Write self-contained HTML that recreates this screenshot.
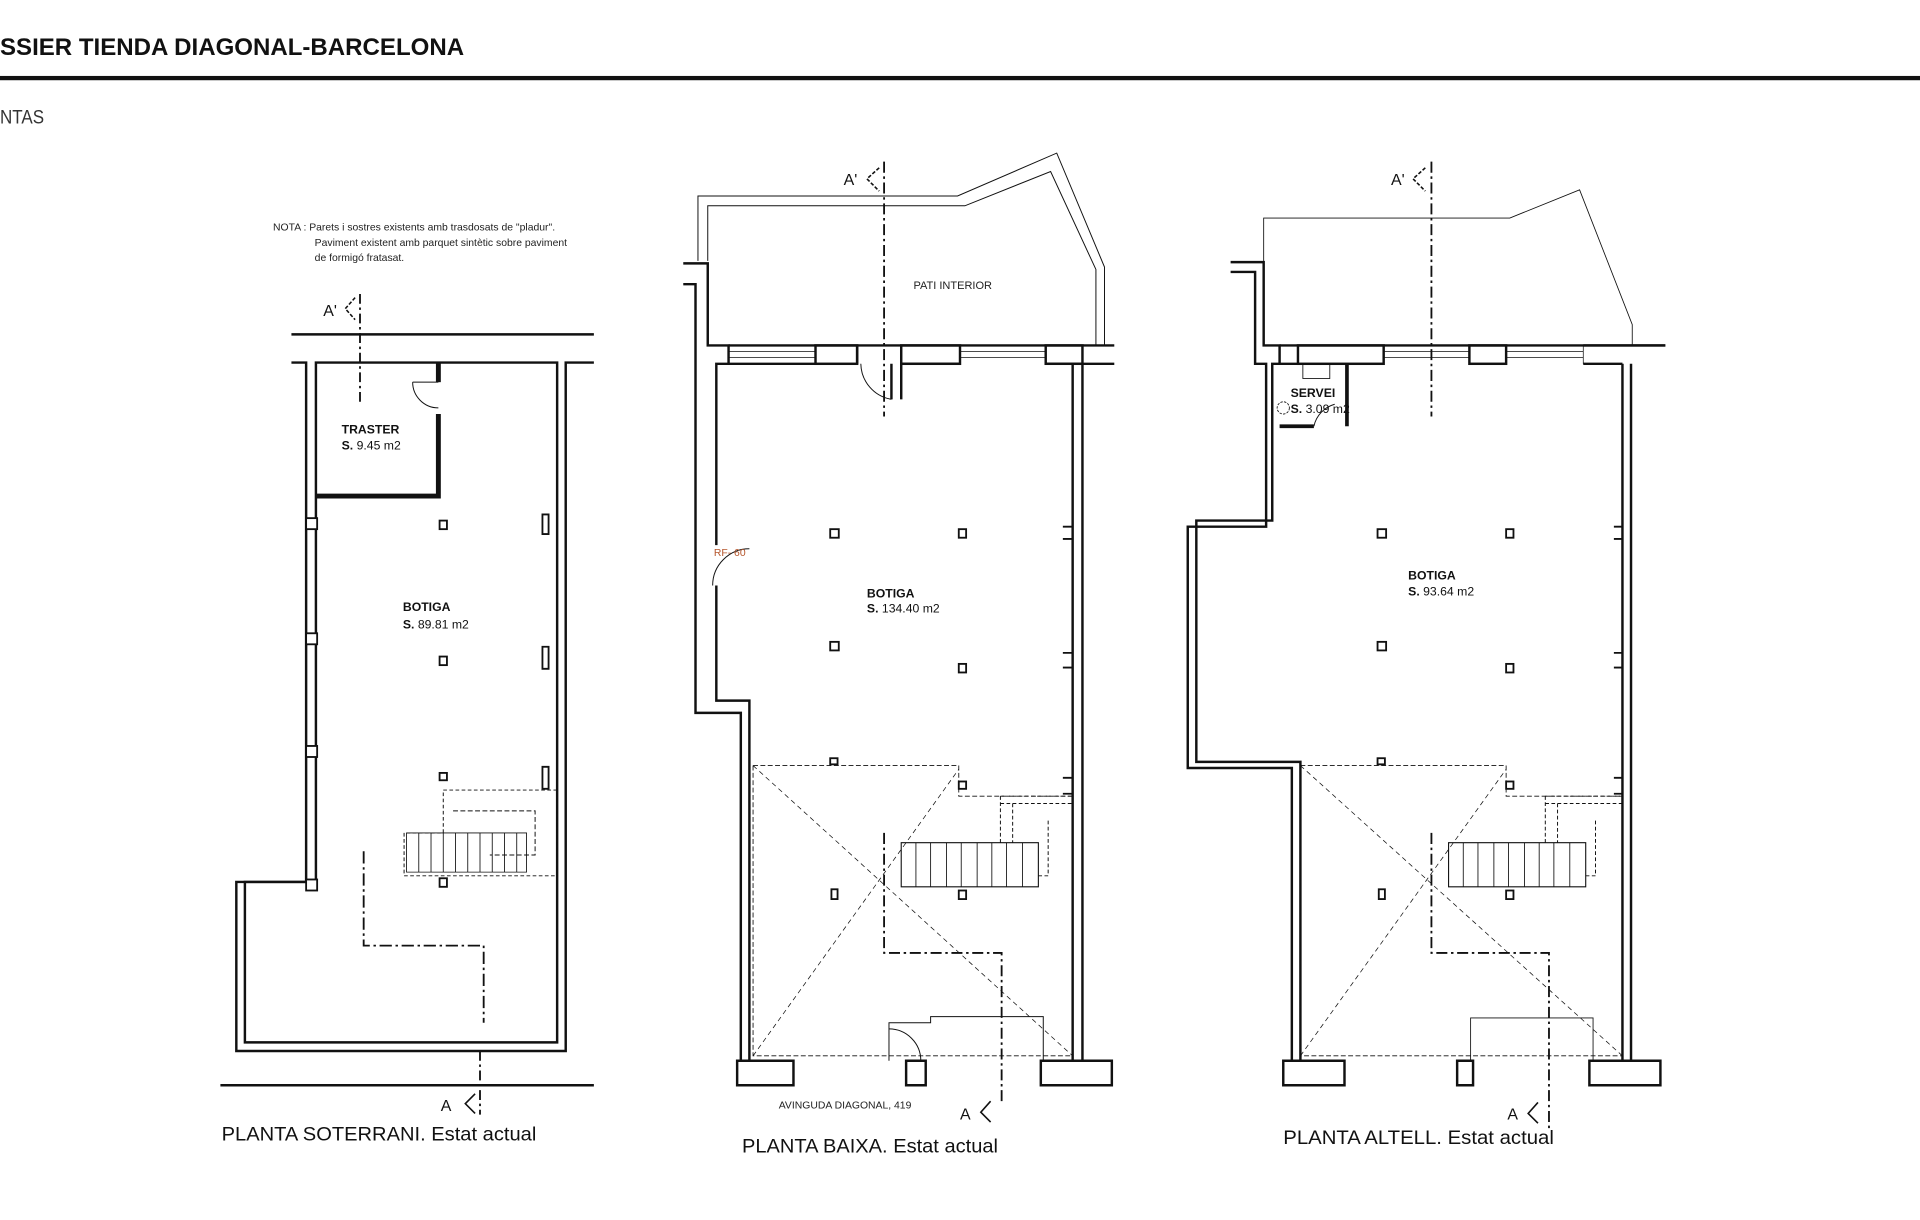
<!DOCTYPE html>
<html><head><meta charset="utf-8"><style>
html,body{margin:0;padding:0;background:#fff;width:1920px;height:1220px;overflow:hidden}
svg{display:block}
text{font-family:"Liberation Sans",sans-serif}
</style></head><body>
<svg width="1920" height="1220" viewBox="0 0 1568 996" preserveAspectRatio="none" xmlns="http://www.w3.org/2000/svg">
<text x="0" y="45" font-size="19.5" font-weight="bold" fill="#111" textLength="379" lengthAdjust="spacingAndGlyphs">SSIER TIENDA DIAGONAL-BARCELONA</text>
<rect x="0" y="62" width="1568" height="3.5" fill="#111"/>
<text x="0" y="101" font-size="16" fill="#333" textLength="36" lengthAdjust="spacingAndGlyphs">NTAS</text>

<g fill="none" stroke="#111">
<!-- ============ PLAN 1 SOTERRANI ============ -->
<text x="223" y="188" font-size="8.5" fill="#222" stroke="none">NOTA :  Parets i sostres existents amb trasdosats de "pladur".</text>
<text x="257" y="201" font-size="8.5" fill="#222" stroke="none">Paviment existent amb parquet sintètic sobre paviment</text>
<text x="257" y="213" font-size="8.5" fill="#222" stroke="none">de formigó fratasat.</text>
<line x1="238" y1="273" x2="485" y2="273" stroke-width="2"/>
<path d="M238 296 H250 V720 H193 V858 H462 V296 H485" stroke-width="2"/>
<path d="M258 296 V720 H200 V851 H455 V296 Z" stroke-width="2"/>
<line x1="180" y1="886" x2="485" y2="886" stroke-width="2"/>
<rect x="250" y="423" width="9" height="9" stroke-width="1.5" fill="#fff"/>
<rect x="250" y="517" width="9" height="9" stroke-width="1.5" fill="#fff"/>
<rect x="250" y="609" width="9" height="9" stroke-width="1.5" fill="#fff"/>
<rect x="250" y="718" width="9" height="9" stroke-width="1.5" fill="#fff"/>
<path d="M258 405 H358 V338" stroke-width="4"/>
<line x1="358" y1="296" x2="358" y2="312" stroke-width="4"/>
<path d="M337 312 H358 M337 312 A21 21 0 0 0 358 333" stroke-width="0.8"/>
<text x="279" y="354" font-size="10" font-weight="bold" fill="#111" stroke="none">TRASTER</text>
<text x="279" y="367" font-size="10" fill="#111" stroke="none"><tspan font-weight="bold">S.</tspan>     9.45 m2</text>
<text x="329" y="499" font-size="10" font-weight="bold" fill="#111" stroke="none">BOTIGA</text>
<text x="329" y="513" font-size="10" fill="#111" stroke="none"><tspan font-weight="bold">S.</tspan>     89.81 m2</text>
<g stroke-width="1.5" fill="#fff">
<rect x="359" y="425" width="6" height="7"/><rect x="359" y="536" width="6" height="7"/><rect x="359" y="631" width="6" height="6"/><rect x="359" y="717" width="6" height="7"/>
<path d="M443 420 V436 H448 V420 Z M443 528 V546 H448 V528 Z M443 626 V644 H448 V626 Z" />
</g>
<path d="M362 645 H455 V715 H330 V680 H362 Z" stroke-width="0.8" stroke-dasharray="3 2"/>
<g stroke-width="0.7"><path d="M332 680 H430 V712 H332 Z"/>
<path d="M342 680V712M352 680V712M362 680V712M372 680V712M382 680V712M392 680V712M402 680V712M412 680V712M422 680V712"/></g>
<path d="M370 662 H437 V698 H400" stroke-width="0.8" stroke-dasharray="4 2"/>
<path d="M297 695 V772 H395 V835" stroke-width="1.5" stroke-dasharray="10 3 2 3"/>
<line x1="294" y1="240" x2="294" y2="330" stroke-width="1.5" stroke-dasharray="8 3 2 3"/>
<path d="M290 243 L282 252 L290 261" stroke-width="1.3" stroke-dasharray="3 1.5"/>
<text x="264" y="258" font-size="13" fill="#111" stroke="none">A'</text>
<line x1="392" y1="858" x2="392" y2="910" stroke-width="1.5" stroke-dasharray="8 3 2 3"/>
<path d="M388 893 L380 901 L388 909" stroke-width="1.3"/>
<text x="360" y="907" font-size="13" fill="#111" stroke="none">A</text>
<text x="181" y="931" font-size="16" fill="#111" stroke="none" textLength="257" lengthAdjust="spacingAndGlyphs">PLANTA SOTERRANI. Estat actual</text>

<!-- ============ PLAN 2 BAIXA ============ -->
<path d="M570 213 V160 L782 160 L863 125 L902 218 V282" stroke-width="0.8"/>
<path d="M578 213 V168 L788 168 L858 140 L895 220 V282" stroke-width="0.8"/>
<path d="M558 215 H578 V282 H595 V297 H585 V445 M585 478 V572 H612 V866 H602" stroke-width="2"/>
<path d="M558 232 H568 V582 H605 V866" stroke-width="2"/>
<path d="M582 478 A30 30 0 0 1 612 448" stroke-width="0.8"/>
<text x="583" y="454" font-size="8.5" fill="#b5552b" stroke="none">RF- 60</text>
<path d="M595 282 H910 M595 297 H666 M700 297 V282 M736 297 H784 M854 297 H910" stroke-width="2"/>
<rect x="666" y="282" width="34" height="15" stroke-width="2"/>
<rect x="736" y="282" width="48" height="15" stroke-width="2"/>
<rect x="854" y="282" width="30" height="15" stroke-width="2"/>
<path d="M595 287 H666 M595 292 H666 M784 287 H854 M784 292 H854" stroke-width="0.6"/>
<path d="M736 297 V326 M728 297 V326" stroke-width="2"/>
<path d="M703 297 A30 30 0 0 0 728 326" stroke-width="0.8"/>
<path d="M876 297 V866 H908 M884 297 V866" stroke-width="2"/>
<path d="M868 430 H876 M868 440 H876 M868 533 H876 M868 545 H876 M868 635 H876 M868 648 H876" stroke-width="1.5"/>
<path d="M602 866 H648 V886 H602 Z M740 866 H756 V886 H740 Z M850 866 H908 V886 H850 Z" stroke-width="2"/>
<text x="746" y="236" font-size="9" fill="#222" stroke="none">PATI INTERIOR</text>
<text x="708" y="488" font-size="10" font-weight="bold" fill="#111" stroke="none">BOTIGA</text>
<text x="708" y="500" font-size="10" fill="#111" stroke="none"><tspan font-weight="bold">S.</tspan>  134.40 m2</text>
<g stroke-width="1.5" fill="#fff">
<rect x="678" y="432" width="7" height="7"/><rect x="783" y="432" width="6" height="7"/><rect x="678" y="524" width="7" height="7"/><rect x="783" y="542" width="6" height="7"/><rect x="678" y="619" width="6" height="5"/><rect x="783" y="638" width="6" height="6"/><rect x="679" y="726" width="5" height="8"/><rect x="783" y="727" width="6" height="7"/>
</g>
<g stroke-width="0.7" stroke-dasharray="4 2"><path d="M615 625 H783 V650 H876 M615 625 V862 H876"/></g>
<path d="M615 625 L876 862 M615 862 L783 628" stroke-width="0.6" stroke-dasharray="4 3"/>
<path d="M736 688 H848 V724 H736 Z" stroke-width="0.9"/>
<path d="M748 688V724M760 688V724M773 688V724M785 688V724M798 688V724M810 688V724M822 688V724M835 688V724" stroke-width="0.7"/>
<path d="M817 650 H876 M817 656 H876 M817 650 V688 M827 656 V688 M856 670 V715 H848" stroke-width="0.8" stroke-dasharray="3 2"/>
<path d="M722 132 V340" stroke-width="1.5" stroke-dasharray="9 3 2 3"/>
<path d="M718 137 L708 146 L718 156" stroke-width="1.3" stroke-dasharray="3 1.5"/>
<text x="689" y="151" font-size="13" fill="#111" stroke="none">A'</text>
<path d="M722 680 V778 H818 V900" stroke-width="1.5" stroke-dasharray="9 3 2 3"/>
<path d="M809 899 L801 908 L809 916" stroke-width="1.3"/>
<text x="784" y="914" font-size="13" fill="#111" stroke="none">A</text>
<path d="M726 866 V835 H760 V830 H852 V866" stroke-width="0.8"/>
<path d="M726 840 A26 26 0 0 1 752 866" stroke-width="0.8"/>
<text x="636" y="905" font-size="8.5" fill="#222" stroke="none">AVINGUDA DIAGONAL, 419</text>
<text x="606" y="941" font-size="16" fill="#111" stroke="none" textLength="209" lengthAdjust="spacingAndGlyphs">PLANTA BAIXA. Estat actual</text>

<!-- ============ PLAN 3 ALTELL ============ -->
<path d="M1032 214 V178 H1233 L1290 155 L1333 265 V282" stroke-width="0.7"/>
<path d="M1005 214 H1032 V282 H1045 V297 H1039 V425 H977 V622 H1062 V866 H1050" stroke-width="2"/>
<path d="M1005 222 H1025 V297 H1034 V430 H970 V627 H1055 V866" stroke-width="2"/>
<path d="M1045 282 H1360 M1045 297 H1060" stroke-width="2"/>
<rect x="1060" y="282" width="70" height="15" stroke-width="2"/>
<rect x="1200" y="282" width="30" height="15" stroke-width="2"/>
<path d="M1293 282 H1360 M1293 297 H1325" stroke-width="2"/>
<path d="M1293 282 V297 M1130 287 H1200 M1130 292 H1200 M1230 287 H1293 M1230 292 H1293" stroke-width="0.6"/>
<path d="M1325 297 V866 H1356 M1332 297 V866" stroke-width="2"/>
<path d="M1318 430 H1325 M1318 440 H1325 M1318 533 H1325 M1318 545 H1325 M1318 635 H1325 M1318 648 H1325" stroke-width="1.5"/>
<path d="M1048 866 H1098 V886 H1048 Z M1190 866 H1203 V886 H1190 Z M1298 866 H1356 V886 H1298 Z" stroke-width="2"/>
<path d="M1100 297 V348" stroke-width="3"/>
<path d="M1045 348 H1073" stroke-width="3"/>
<path d="M1073 348 A24 24 0 0 1 1090 330" stroke-width="0.8"/>
<rect x="1064" y="297" width="22" height="12" stroke-width="0.7"/>
<circle cx="1048" cy="333" r="5" stroke-width="0.7" stroke-dasharray="2 1"/>
<text x="1054" y="324" font-size="10" font-weight="bold" fill="#111" stroke="none">SERVEI</text>
<text x="1054" y="337" font-size="10" fill="#111" stroke="none"><tspan font-weight="bold">S.</tspan>    3.09 m2</text>
<text x="1150" y="473" font-size="10" font-weight="bold" fill="#111" stroke="none">BOTIGA</text>
<text x="1150" y="486" font-size="10" fill="#111" stroke="none"><tspan font-weight="bold">S.</tspan>    93.64 m2</text>
<g stroke-width="1.5" fill="#fff">
<rect x="1125" y="432" width="7" height="7"/><rect x="1230" y="432" width="6" height="7"/><rect x="1125" y="524" width="7" height="7"/><rect x="1230" y="542" width="6" height="7"/><rect x="1125" y="619" width="6" height="5"/><rect x="1230" y="638" width="6" height="6"/><rect x="1126" y="726" width="5" height="8"/><rect x="1230" y="727" width="6" height="7"/>
</g>
<g stroke-width="0.7" stroke-dasharray="4 2"><path d="M1062 625 H1230 V650 H1325 M1062 625 V862 H1325"/></g>
<path d="M1062 625 L1325 862 M1062 862 L1230 628" stroke-width="0.6" stroke-dasharray="4 3"/>
<path d="M1183 688 H1295 V724 H1183 Z" stroke-width="0.9"/>
<path d="M1195 688V724M1207 688V724M1220 688V724M1232 688V724M1245 688V724M1257 688V724M1269 688V724M1282 688V724" stroke-width="0.7"/>
<path d="M1262 650 H1325 M1262 656 H1325 M1262 650 V688 M1272 656 V688 M1303 670 V715 H1295" stroke-width="0.8" stroke-dasharray="3 2"/>
<path d="M1169 132 V340" stroke-width="1.5" stroke-dasharray="9 3 2 3"/>
<path d="M1164 137 L1154 146 L1164 156" stroke-width="1.3" stroke-dasharray="3 1.5"/>
<text x="1136" y="151" font-size="13" fill="#111" stroke="none">A'</text>
<path d="M1169 680 V778 H1265 V922" stroke-width="1.5" stroke-dasharray="9 3 2 3"/>
<path d="M1256 900 L1248 909 L1256 917" stroke-width="1.3"/>
<text x="1231" y="914" font-size="13" fill="#111" stroke="none">A</text>
<path d="M1201 866 V831 H1301 V866" stroke-width="0.7"/>
<text x="1048" y="934" font-size="16" fill="#111" stroke="none" textLength="221" lengthAdjust="spacingAndGlyphs">PLANTA ALTELL. Estat actual</text>
</g>
</svg>
</body></html>
